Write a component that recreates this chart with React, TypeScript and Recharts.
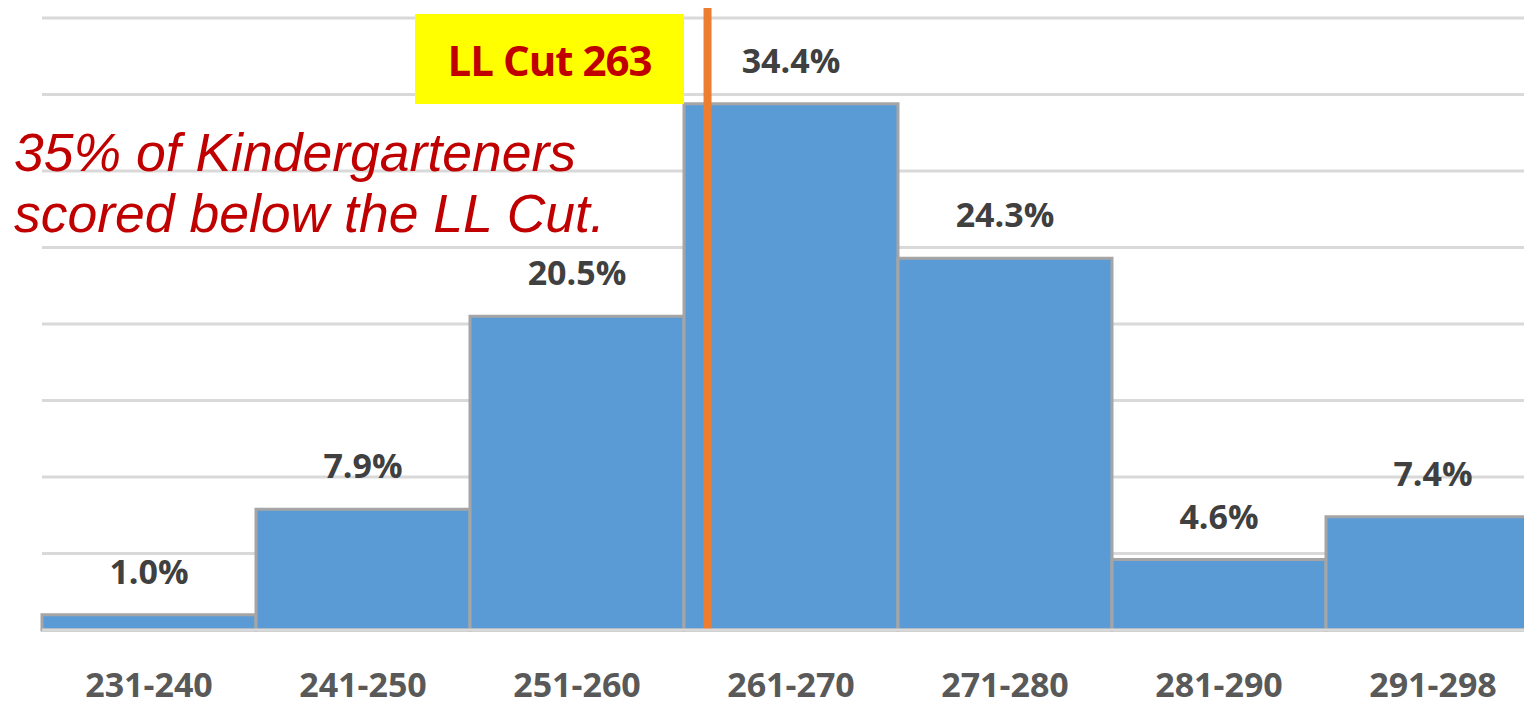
import React from 'react';
import { BarChart, Bar, XAxis, YAxis, CartesianGrid, LabelList, ReferenceLine } from 'recharts';

const ranges = ['231-240', '241-250', '251-260', '261-270', '271-280', '281-290', '291-298'];
const percents = [1.0, 7.9, 20.5, 34.4, 24.3, 4.6, 7.4];
const yTicks = [0, 5, 10, 15, 20, 25, 30, 35, 40];
const binEdges = [0, 1, 2, 3, 4, 5, 6, 7];
// position of the LL cut marker, in bin units from the left edge of the first bin
const cutPosition = 3.11;
const cutLabel = 'LL Cut 263';
const noteLines = ['35% of Kindergarteners', 'scored below the LL Cut.'];

const data = ranges.map((r, i) => ({ range: r, pct: percents[i], binStart: i }));

export default function App() {
  return (
    <div style={{ position: 'fixed', left: 0, top: 0, width: 1524, height: 707, overflow: 'hidden', background: '#fff' }}>
      <BarChart
        width={1560}
        height={707}
        data={data}
        margin={{ top: 18, right: 20, bottom: 0, left: 42 }}
        barCategoryGap={0}
      >
        <CartesianGrid vertical={false} stroke="#D9D9D9" strokeWidth={3} xAxisId="cat" />
        <XAxis
          xAxisId="bins"
          type="number"
          dataKey="binStart"
          scale="linear"
          domain={[0, 7]}
          ticks={binEdges}
          tick={false}
          tickSize={14}
          height={20}
          axisLine={{ stroke: '#D9D9D9', strokeWidth: 3 }}
          tickLine={{ stroke: '#D9D9D9', strokeWidth: 2 }}
          allowDataOverflow
        />
        <XAxis
          xAxisId="cat"
          dataKey="range"
          axisLine={false}
          tickLine={false}
          tickSize={0}
          tickMargin={23}
          height={57}
          interval={0}
          tick={{ fill: '#595959', fontSize: 34, fontWeight: 700, fontFamily: '"Open Sans", sans-serif' }}
        />
        <YAxis hide domain={[0, 40]} ticks={yTicks} />
        <Bar
          xAxisId="cat"
          dataKey="pct"
          fill="#5B9BD5"
          stroke="#A5A5A5"
          strokeWidth={3}
          isAnimationActive={false}
        >
          <LabelList
            dataKey="pct"
            position="top"
            offset={31}
            formatter={(v: number) => `${v.toFixed(1)}%`}
            style={{ fill: '#404040', fontSize: 34, fontWeight: 700, fontFamily: '"Open Sans", sans-serif' }}
          />
        </Bar>
        <ReferenceLine
          xAxisId="bins"
          segment={[{ x: cutPosition, y: 0 }, { x: cutPosition, y: 40.65 }]}
          stroke="#ED7D31"
          strokeWidth={8}
          ifOverflow="visible"
        />
      </BarChart>
      <div
        style={{
          position: 'absolute',
          left: 415,
          top: 14,
          width: 269,
          height: 90,
          background: '#FFFF00',
          color: '#C00000',
          fontFamily: '"Open Sans", sans-serif',
          fontWeight: 700,
          fontSize: 42,
          display: 'flex',
          alignItems: 'center',
          justifyContent: 'center',
          letterSpacing: -1,
        }}
      >
        {cutLabel}
      </div>
      <div
        style={{
          position: 'absolute',
          left: 14,
          top: 122,
          color: '#C00000',
          fontFamily: '"Liberation Sans", Arial, sans-serif',
          fontStyle: 'italic',
          fontSize: 53.5,
          lineHeight: '61px',
          whiteSpace: 'nowrap',
        }}
      >
        {noteLines.map((l) => (
          <div key={l}>{l}</div>
        ))}
      </div>
    </div>
  );
}
